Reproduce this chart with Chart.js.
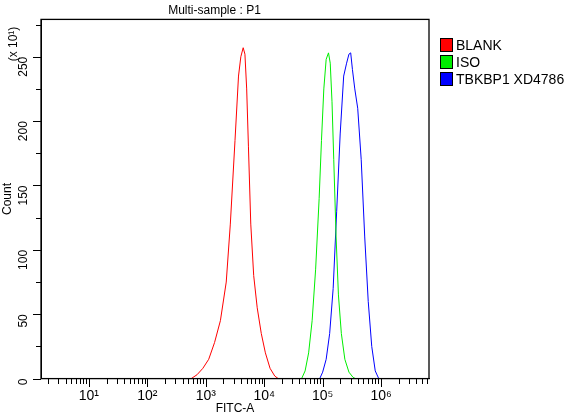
<!DOCTYPE html><html><head><script src="https://cdn.jsdelivr.net/npm/chart.js@4"></script>
<style>body{margin:0;background:#fff}#w{position:relative;width:566px;height:420px}</style></head><body><div id="w"><canvas id="c" width="566" height="420"></canvas></div>
<script>
const seriesNames=["BLANK","ISO","TBKBP1 XD4786"];
const seriesColors=["#ff0000","#00ee00","#0000ff"];
const blankX=[2.75,2.85,2.95,3.05,3.15,3.25,3.35,3.42,3.5,3.56,3.6,3.64,3.67,3.7,3.73,3.77,3.82,3.88,3.95,4.02,4.1,4.18,4.24];
const blankY=[0,3,8,15,28,45,75,120,185,235,250,257,252,225,180,120,80,55,35,20,8,2,0];
const isoX=[4.64,4.7,4.76,4.82,4.88,4.94,4.98,5.02,5.06,5.1,5.13,5.16,5.19,5.23,5.27,5.32,5.38,5.45,5.52,5.56];
const isoY=[0,6,20,45,85,140,185,225,248,253,245,215,170,110,65,35,15,5,1,0];
const bluX=[4.95,5.0,5.06,5.12,5.18,5.24,5.3,5.36,5.41,5.45,5.48,5.51,5.55,5.6,5.66,5.72,5.78,5.84,5.9,5.96];
const bluY=[0,5,15,35,70,130,190,235,245,252,253,240,225,210,170,110,60,25,6,0];
const xTicks=[1,2,3,4,5,6];
const sup={1:"¹",2:"²",3:"³",4:"⁴",5:"⁵",6:"⁶"};
const xs=[blankX,isoX,bluX],ys=[blankY,isoY,bluY];
const minor={id:'minor',afterDraw(ch){const c=ch.ctx,x=ch.scales.x,y=ch.scales.y,a=ch.chartArea;c.save();c.strokeStyle='#000';c.fillStyle='#000';c.lineWidth=1.3;
 c.strokeRect(a.left,a.top,a.right-a.left,a.bottom-a.top);c.lineWidth=1;
 const L=Math.round(x.left),B=Math.round(y.bottom);
 for(let d=0;d<7;d++)for(let k=1;k<10;k++){const v=d+Math.log10(k);if(v<x.min||v>x.max)continue;const p=Math.round(x.getPixelForValue(v));c.fillRect(p,B,1,k==1?8:5);}
 for(let v=0;v<=275;v+=25){const p=Math.round(y.getPixelForValue(v));const w=v%50==0?8:5;c.fillRect(L-w,p,w,1);}
 c.font='14px "Liberation Sans"';c.textAlign='center';
 for(const t of xTicks){c.fillText('10'+sup[t],x.getPixelForValue(t),y.bottom+21);}
 c.font='12px "Liberation Sans"';
 c.save();c.translate(17,44);c.rotate(-Math.PI/2);c.fillText('(x 10¹)',0,0);c.restore();
 c.font='14px "Liberation Sans"';c.textAlign='left';
 seriesNames.forEach((n,i)=>{const ty=38+i*17;c.fillStyle=seriesColors[i];c.fillRect(440.5,ty,12,13);c.strokeRect(440.5,ty+0.5,12,13);c.fillStyle='#000';c.fillText(n,456,ty+12);});
 c.restore();}};
const F={family:'Liberation Sans',size:12};
new Chart(document.getElementById('c'),{type:'line',data:{datasets:seriesNames.map((n,i)=>({label:n,data:xs[i].map((v,j)=>({x:v,y:ys[i][j]})),borderColor:seriesColors[i],borderWidth:1,pointRadius:0,tension:0}))},
options:{responsive:false,animation:false,layout:{padding:{left:0,right:137,top:0,bottom:0}},
plugins:{legend:{display:false},tooltip:{enabled:false},title:{display:true,text:'Multi-sample : P1',color:'#000',font:{...F,weight:'normal'},padding:{top:3,bottom:2}}},
scales:{x:{type:'linear',min:0.18,max:6.82,border:{color:'#000'},grid:{display:false},ticks:{display:false},title:{display:true,text:'FITC-A',color:'#000',font:F,padding:{top:15}}},
y:{min:0,max:279,border:{color:'#000'},grid:{display:false},afterFit(s){s.width=41},ticks:{stepSize:50,padding:9,color:'#000',font:F,maxRotation:90,minRotation:90,callback:v=>v%50==0?v:''},title:{display:true,text:'Count',color:'#000',font:F,padding:0}}}},
plugins:[minor]});
</script></body></html>
